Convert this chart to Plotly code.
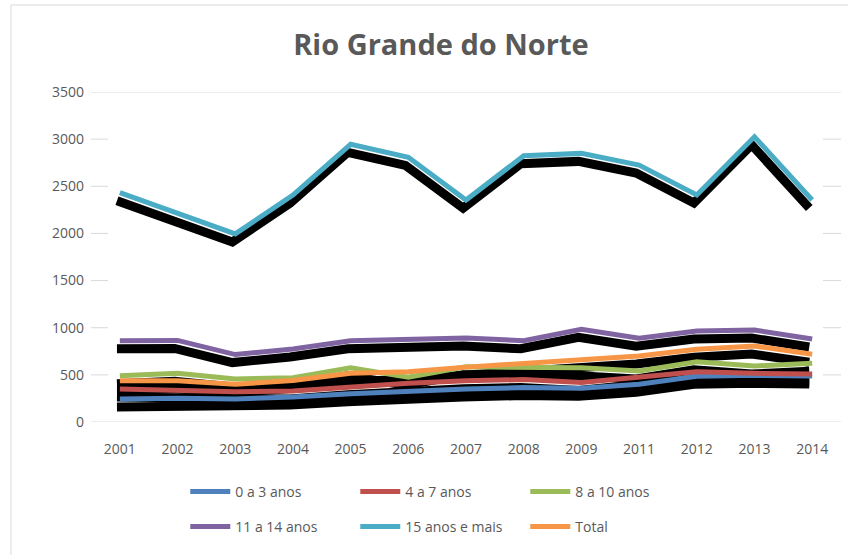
import plotly.graph_objects as go

# dados
anos = ["2001", "2002", "2003", "2004", "2005", "2006", "2007",
        "2008", "2009", "2011", "2012", "2013", "2014"]

anos_0_3 = [245, 252, 245, 265, 300, 330, 350, 365, 358, 400, 485, 495, 488]
anos_4_7 = [350, 335, 322, 328, 375, 410, 438, 450, 418, 481, 534, 516, 509]
anos_8_10 = [490, 516, 456, 470, 576, 475, 585, 576, 576, 541, 640, 594, 622]
anos_11_14 = [862, 865, 715, 775, 862, 870, 890, 862, 983, 888, 965, 976, 880]
anos_15_mais = [2432, 2210, 1995, 2407, 2945, 2807, 2354, 2824, 2849, 2725, 2407, 3025, 2354]
total = [438, 438, 400, 440, 516, 534, 582, 622, 658, 700, 771, 806, 718]

y_ticks = [0, 500, 1000, 1500, 2000, 2500, 3000, 3500]

series = [
    ("0 a 3 anos", anos_0_3, "#4F81BD", "legend"),
    ("4 a 7 anos", anos_4_7, "#C0504D", "legend"),
    ("8 a 10 anos", anos_8_10, "#9BBB59", "legend"),
    ("11 a 14 anos", anos_11_14, "#8064A2", "legend2"),
    ("15 anos e mais", anos_15_mais, "#4BACC6", "legend2"),
    ("Total", total, "#F79646", "legend2"),
]

FONT = "Open Sans, sans-serif"
TXT = "#595959"
GRID = "#D9D9D9"

fig = go.Figure()

# sombras (eixo base deslocado alguns pixels)
for nome, vals, cor, lg in series:
    fig.add_trace(go.Scatter(
        x=anos, y=vals, mode="lines", xaxis="x", yaxis="y",
        line=dict(color="black", width=9), showlegend=False, hoverinfo="skip"
    ))

# linhas coloridas (eixo visível)
for nome, vals, cor, lg in series:
    fig.add_trace(go.Scatter(
        x=anos, y=vals, mode="lines", name=nome, xaxis="x2", yaxis="y2",
        line=dict(color=cor, width=5), legend=lg
    ))

# linhas de grade: só pontas nas bordas, menos a do topo e a do zero
shapes = []
for v in y_ticks:
    if v in (0, 3500):
        shapes.append(dict(type="line", xref="paper", yref="y2", x0=0, x1=1, y0=v, y1=v,
                           line=dict(color=GRID, width=1), layer="below"))
    else:
        for a, b in ((0, 0.0227), (0.976, 1)):
            shapes.append(dict(type="line", xref="paper", yref="y2", x0=a, x1=b, y0=v, y1=v,
                               line=dict(color=GRID, width=1), layer="below"))
# borda da área do gráfico
shapes.append(dict(type="rect", xref="paper", yref="paper", x0=-0.1067, x1=1.05,
                   y0=-0.5, y1=1.2636, line=dict(color=GRID, width=1),
                   fillcolor="rgba(0,0,0,0)", layer="below"))

legend_base = dict(
    orientation="h", xanchor="left", yanchor="middle",
    font=dict(family=FONT, size=14, color=TXT),
    entrywidth=115, itemwidth=40, bgcolor="rgba(0,0,0,0)"
)

fig.update_layout(
    width=848, height=555,
    margin=dict(l=91, r=7, t=92, b=133),
    paper_bgcolor="white", plot_bgcolor="white",
    title=dict(text="<b>Rio Grande do Norte</b>", x=0.52, xref="container",
               y=1 - 45 / 555, yanchor="middle", xanchor="center",
               font=dict(family=FONT, size=29, color=TXT)),
    xaxis=dict(type="category", range=[-0.45, 12.55], visible=False),
    yaxis=dict(range=[85, 3585], visible=False),
    xaxis2=dict(type="category", overlaying="x", range=[-0.5, 12.5],
                showgrid=False, showline=False, ticks="",
                ticklabelstandoff=17,
                tickfont=dict(family=FONT, size=14, color=TXT)),
    yaxis2=dict(overlaying="y", range=[0, 3500], tickvals=y_ticks,
                showgrid=False, zeroline=False,
                showline=False, ticks="", ticklabelstandoff=6,
                tickfont=dict(family=FONT, size=14, color=TXT)),
    legend=dict(legend_base, x=0.1257, y=-0.212),
    legend2=dict(legend_base, x=0.1257, y=-0.318),
    showlegend=True,
    shapes=shapes,
)

fig.write_html("out.html", config={"displayModeBar": False},
               post_script="document.body.style.margin='0';")
